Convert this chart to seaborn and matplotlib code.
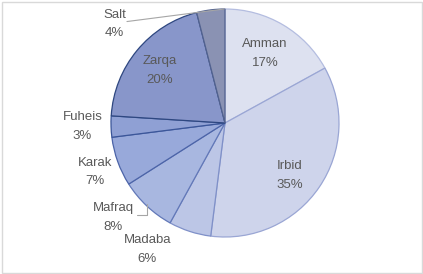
import matplotlib
matplotlib.use("Agg")
import matplotlib.pyplot as plt
import seaborn as sns
import numpy as np
from matplotlib.patches import Rectangle

# ---- data ----
cities = ["Amman", "Irbid", "Madaba", "Mafraq", "Karak", "Fuheis", "Zarqa", "Salt"]
shares = [17, 35, 6, 8, 7, 3, 20, 4]

# ---- style ----
fills = ["#dde1f0", "#ced4eb", "#bcc6e6", "#a8b7e0", "#98a9da", "#8fa0d4", "#8896ca", "#8a92b3"]
edges = ["#b4bde0", "#9aa6d4", "#7f90c8", "#6278b8", "#4c64a8", "#3b5699", "#2e4780", "#52628f"]
# label centres in pie-radius units (layout only)
label_pos = [(0.35, 0.61), (0.57, -0.46), (-0.68, -1.11), (-0.98, -0.83),
             (-1.14, -0.43), (-1.25, -0.03), (-0.57, 0.46), (-0.97, 0.87)]

sns.set_theme(style="white")
plt.rcParams["font.family"] = ["Liberation Sans", "DejaVu Sans"]

W, H, DPI = 423, 274, 100
fig = plt.figure(figsize=(W / DPI, H / DPI), dpi=DPI)
ax = fig.add_axes([0, 0, 1, 1])

wedges, _ = ax.pie(shares, colors=fills, startangle=90, counterclock=False,
                   radius=1.0, wedgeprops=dict(linewidth=0.9))
for w, ec in zip(wedges, edges):
    w.set_edgecolor(ec)

cx, cy, R = 225, 123, 114
ax.set_aspect("auto")
ax.set_xlim(-cx / R, (W - cx) / R)
ax.set_ylim(-(H - cy) / R, cy / R)
ax.axis("off")

total = sum(shares)
for name, val, (lx, ly) in zip(cities, shares, label_pos):
    ax.text(lx, ly, f"{name}\n{round(100 * val / total)}%", ha="center", va="center",
            fontsize=9.5, color="#595959", linespacing=1.7)

# leader lines
salt = wedges[cities.index("Salt")]
a = np.deg2rad(salt.theta1 + 0.4)
ax.annotate("", xy=(np.cos(a), np.sin(a)), xytext=(-0.86, 0.89),
            arrowprops=dict(arrowstyle="-", color="#a6a6a6", lw=0.8, shrinkA=0, shrinkB=0))
maf = wedges[cities.index("Mafraq")]
a = np.deg2rad((maf.theta1 + maf.theta2) / 2 - 0.7)
ax.annotate("", xy=(np.cos(a) * 0.99, np.sin(a) * 0.99), xytext=(-0.772, -0.807),
            arrowprops=dict(arrowstyle="-", color="#a6a6a6", lw=0.8, shrinkA=0, shrinkB=0,
                            connectionstyle="angle,angleA=0,angleB=90,rad=0"))

fig.patches.append(Rectangle((1.5 / W, 1.5 / H), 1 - 3 / W, 1 - 3 / H, transform=fig.transFigure,
                             fill=False, edgecolor="#d9d9d9", lw=1))
fig.savefig("out.png", dpi=DPI, facecolor="white")
